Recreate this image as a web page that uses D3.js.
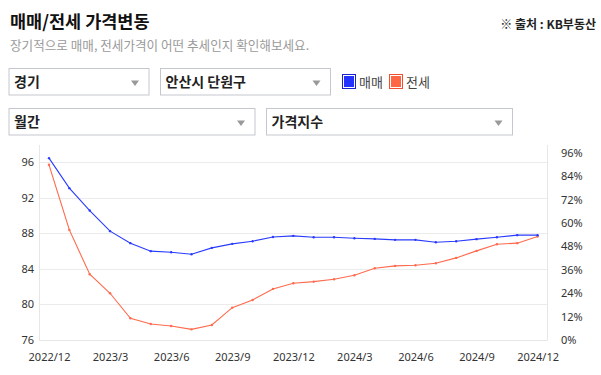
<!DOCTYPE html>
<html>
<head>
<meta charset="utf-8">
<script src="https://cdn.jsdelivr.net/npm/d3@7"></script>
<style>
    body { margin: 0; background: #fff; font-family: "Noto Sans CJK KR", "Noto Sans", sans-serif; }
    svg { display: block; }
</style>
</head>
<body>
<svg id="svg" width="601" height="375"></svg>
<script>
// months from 2022/12 to 2024/12
var months = ["2022/12","2023/1","2023/2","2023/3","2023/4","2023/5","2023/6","2023/7","2023/8","2023/9","2023/10","2023/11","2023/12",
    "2024/1","2024/2","2024/3","2024/4","2024/5","2024/6","2024/7","2024/8","2024/9","2024/10","2024/11","2024/12"];
var saleIndex = [96.47, 93.09, 90.57, 88.25, 86.9, 86.0, 85.88, 85.65, 86.37, 86.82, 87.12, 87.6, 87.72,
    87.57, 87.57, 87.46, 87.38, 87.27, 87.27, 87.0, 87.12, 87.35, 87.57, 87.8, 87.8];
var rentIndex = [95.72, 88.39, 83.4, 81.26, 78.44, 77.8, 77.58, 77.2, 77.69, 79.64, 80.5, 81.75, 82.39,
    82.57, 82.84, 83.29, 84.08, 84.34, 84.41, 84.64, 85.24, 86.03, 86.78, 86.9, 87.64];
var xTickLabels = ["2022/12","2023/3","2023/6","2023/9","2023/12","2024/3","2024/6","2024/9","2024/12"];
var leftTicks = [76, 80, 84, 88, 92, 96];
var rightTicks = [0, 12, 24, 36, 48, 60, 72, 84, 96];

var svg = d3.select("#svg");

// header
svg.append("text").attr("x", 10).attr("y", 28).attr("font-size", 17.5).attr("font-weight", "bold")
    .attr("fill", "#111").text("매매/전세 가격변동");
svg.append("text").attr("x", 10).attr("y", 50).attr("font-size", 12.6).attr("fill", "#9a9a9a")
    .text("장기적으로 매매, 전세가격이 어떤 추세인지 확인해보세요.");
svg.append("text").attr("x", 596).attr("y", 29).attr("font-size", 12).attr("font-weight", "bold")
    .attr("text-anchor", "end").attr("fill", "#222").text("※ 출처 : KB부동산");

// select boxes
var boxes = [
    {x: 9, y: 68.5, w: 140, label: "경기"},
    {x: 160.5, y: 68.5, w: 170, label: "안산시 단원구"},
    {x: 9, y: 108.5, w: 246, label: "월간"},
    {x: 266.5, y: 108.5, w: 246, label: "가격지수"}
];
var bg = svg.append("g").selectAll("g").data(boxes).enter().append("g")
    .attr("transform", function(d) { return "translate(" + d.x + "," + d.y + ")"; });
bg.append("rect").attr("width", function(d) { return d.w; }).attr("height", 26.5)
    .attr("fill", "#fff").attr("stroke", "#c4c7cf").attr("stroke-width", 1);
bg.append("text").attr("x", 5).attr("y", 18.5).attr("font-size", 14).attr("font-weight", "bold")
    .attr("fill", "#222").text(function(d) { return d.label; });
bg.append("path").attr("fill", "#999")
    .attr("d", function(d) { var r = d.w - 14; return "M" + (r - 4) + ",12L" + (r + 4) + ",12L" + r + ",17.5Z"; });

// legend
var legend = [{label: "매매", color: "#2233ff", border: "#1a22cc", x: 342}, {label: "전세", color: "#ff6644", border: "#f05030", x: 389}];
var lg = svg.append("g").selectAll("g").data(legend).enter().append("g")
    .attr("transform", function(d) { return "translate(" + d.x + ",74)"; });
lg.append("rect").attr("x", 0.5).attr("y", 0.5).attr("width", 13).attr("height", 14)
    .attr("fill", "#fff").attr("stroke", function(d) { return d.border; });
lg.append("rect").attr("x", 2).attr("y", 2).attr("width", 10).attr("height", 11)
    .attr("fill", function(d) { return d.color; });
lg.append("text").attr("x", 17).attr("y", 12.5).attr("font-size", 13).attr("fill", "#444")
    .text(function(d) { return d.label; });

// chart area
var plotLeft = 39, plotRight = 547, plotTop = 152.7, plotBottom = 340;
var x = d3.scalePoint().domain(months).range([49, 537.6]);
var y = d3.scaleLinear().domain([76, 96 + (162.3 - plotTop) / 8.875]).range([plotBottom, plotTop]);
var yRight = d3.scaleLinear().domain([0, 96]).range([plotBottom, plotTop]);

var chart = svg.append("g");

chart.append("g").selectAll("line").data(leftTicks.slice(1)).enter().append("line")
    .attr("x1", plotLeft).attr("x2", plotRight)
    .attr("y1", function(d) { return Math.round(y(d)) + 0.5; })
    .attr("y2", function(d) { return Math.round(y(d)) + 0.5; })
    .attr("stroke", "#ebebeb");

chart.append("line").attr("x1", plotLeft + 0.5).attr("x2", plotLeft + 0.5).attr("y1", 145).attr("y2", plotBottom + 0.5).attr("stroke", "#e6e6e6");
chart.append("line").attr("x1", plotRight + 0.5).attr("x2", plotRight + 0.5).attr("y1", 145).attr("y2", plotBottom + 0.5).attr("stroke", "#e6e6e6");
chart.append("line").attr("x1", plotLeft).attr("x2", plotRight).attr("y1", plotBottom + 0.5).attr("y2", plotBottom + 0.5).attr("stroke", "#e6e6e6");

var leftAxis = d3.axisLeft(y).tickValues(leftTicks).tickSize(0).tickPadding(5);
chart.append("g").attr("transform", "translate(" + plotLeft + ",0)").call(leftAxis)
    .call(function(g) { g.select(".domain").remove(); })
    .selectAll("text").attr("font-size", 11).attr("fill", "#333").attr("font-family", "'Noto Sans', sans-serif");

var rightAxis = d3.axisRight(yRight).tickValues(rightTicks).tickSize(0).tickPadding(14)
    .tickFormat(function(d) { return d + "%"; });
chart.append("g").attr("transform", "translate(" + plotRight + ",0)").call(rightAxis)
    .call(function(g) { g.select(".domain").remove(); })
    .selectAll("text").attr("font-size", 11).attr("fill", "#333").attr("font-family", "'Noto Sans', sans-serif");

var xAxis = d3.axisBottom(x).tickValues(xTickLabels).tickSize(0).tickPadding(13);
chart.append("g").attr("transform", "translate(0," + plotBottom + ")").call(xAxis)
    .call(function(g) { g.select(".domain").remove(); })
    .selectAll("text").attr("font-size", 11).attr("fill", "#333").attr("font-family", "'Noto Sans', sans-serif");

var series = [{values: rentIndex, color: "#ff6a4d"}, {values: saleIndex, color: "#2a3cff"}];
var line = d3.line().x(function(d, i) { return x(months[i]); }).y(function(d) { return y(d); });

series.forEach(function(s) {
    chart.append("path").datum(s.values).attr("fill", "none").attr("stroke", s.color)
        .attr("stroke-width", 1.1).attr("d", line);
    chart.append("g").selectAll("circle").data(s.values).enter().append("circle")
        .attr("cx", function(d, i) { return x(months[i]); }).attr("cy", function(d) { return y(d); })
        .attr("r", 1.2).attr("fill", s.color);
});
</script>
</body>
</html>
